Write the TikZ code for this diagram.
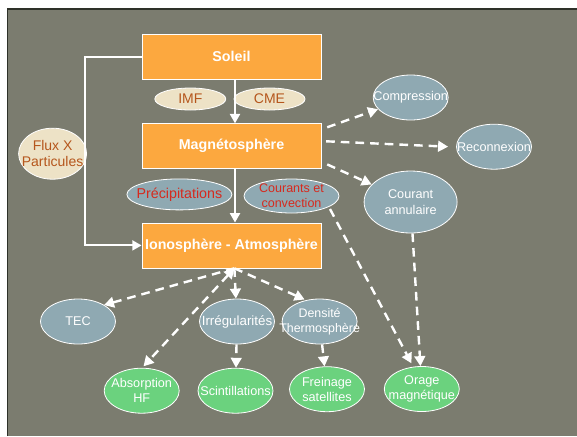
\documentclass[tikz,border=0pt]{standalone}
\usepackage{fontspec}
\setmainfont{Liberation Sans}
\usetikzlibrary{shapes.geometric,arrows.meta}
\definecolor{bggray}{HTML}{7B7C6F}
\definecolor{boxor}{HTML}{FCA83F}
\definecolor{beige}{HTML}{EDE2C6}
\definecolor{brn}{HTML}{B5561C}
\definecolor{bgray}{HTML}{8FA9B2}
\definecolor{rtxt}{HTML}{D62A1E}
\definecolor{grn}{HTML}{6BD27E}
\definecolor{darkedge}{HTML}{2E3129}
\begin{document}
\begin{tikzpicture}[x=0.75pt,y=-0.75pt,
  mainbox/.style={draw=white, line width=0.6pt, fill=boxor, minimum width=134.25pt,
    minimum height=33.75pt, inner sep=0pt, text=white, font=\fontsize{10.7}{13}\selectfont\bfseries},
  ell/.style={ellipse, draw=white, line width=0.6pt, inner sep=0pt},
  smallell/.style={ell, minimum width=56.25pt, minimum height=33.75pt},
  btext/.style={text=brn, font=\fontsize{10.5}{12.3}\selectfont, align=center, inner sep=0pt},
  rtext/.style={text=rtxt, font=\fontsize{10.7}{12.5}\selectfont, align=center, inner sep=0pt},
  rtexts/.style={text=rtxt, font=\fontsize{9.4}{11.3}\selectfont, align=center, inner sep=0pt},
  wtext/.style={text=white, font=\fontsize{9.5}{11.5}\selectfont, align=center, inner sep=0pt},
  sarrow/.style={draw=white, line width=1.5pt, -{Triangle[length=7pt,width=7.5pt]}},
  darrow/.style={draw=white, line width=1.8pt, dash pattern=on 6.5pt off 4.5pt,
    -{Triangle[length=7.5pt,width=8pt]}},
  ]
\useasboundingbox (0,0) rectangle (577,436);
\fill[white] (0,0) rectangle (577,436);
\fill[bggray] (7.4,9) rectangle (577,436);
\draw[darkedge, line width=1.2pt] (7.4,436) -- (7.4,9) -- (577,9);

% main boxes
\node[mainbox] (sol) at (231.5,56.8) {Soleil};
\node[mainbox] (mag) at (231.5,146.2) {Magnétosphère};
\node[mainbox] (ion) at (231.5,245.4) {Ionosphère - Atmosphère};

% beige ellipses
\node[ell, fill=beige, minimum width=53.25pt, minimum height=16.5pt, label={[btext]center:IMF}] (imf) at (190.3,99) {};
\node[ell, fill=beige, minimum width=53.25pt, minimum height=16.5pt, label={[btext]center:CME}] (cme) at (269.5,99) {};
\node[ell, fill=beige, minimum width=51pt, minimum height=38.25pt, label={[btext]center:{Flux X\\Particules}}] (flux) at (52.6,153.7) {};

% red-text ellipses
\node[ell, fill=bgray, minimum width=78.75pt, minimum height=23.25pt, label={[rtext]center:Précipitations}] (prec) at (179.4,194.4) {};
\node[ell, fill=bgray, minimum width=71.25pt, minimum height=25.5pt, label={[rtexts]center:{Courants et\\convection}}] (cour) at (291.5,196) {};

% blue-gray ellipses
\node[smallell, fill=bgray, label={[wtext]center:Compression}] (comp) at (410.7,97.5) {};
\node[smallell, fill=bgray, label={[wtext]center:Reconnexion}] (recon) at (494,146.7) {};
\node[ell, fill=bgray, minimum width=69.75pt, minimum height=46.5pt, label={[wtext]center:{Courant\\annulaire}}] (cann) at (410.6,202) {};
\node[smallell, fill=bgray, label={[wtext]center:TEC}] (tec) at (78,321.5) {};
\node[smallell, fill=bgray, label={[wtext,font=\fontsize{10}{12}\selectfont]center:Irrégularités}] (irr) at (237,321.5) {};
\node[smallell, fill=bgray, label={[wtext,font=\fontsize{9.3}{11.3}\selectfont]center:{Densité\\Thermosphère}}] (dens) at (319.6,321.5) {};

% green ellipses
\node[smallell, fill=grn, label={[wtext]center:{Absorption\\HF}}] (abs) at (141.7,390.7) {};
\node[smallell, fill=grn, label={[wtext]center:Scintillations}] (scint) at (235.5,390.7) {};
\node[smallell, fill=grn, label={[wtext]center:{Freinage\\satellites}}] (frein) at (327,389.2) {};
\node[smallell, fill=grn, label={[wtext]center:{Orage\\magnétique}}] (orage) at (421.8,389) {};

% solid connectors
\draw[sarrow] ([shift={(3.5,0)}]sol.south) -- ([shift={(3.5,0)}]mag.north);
\draw[sarrow] ([shift={(3.5,0)}]mag.south) -- ([shift={(3.5,0)}]ion.north);
\coordinate (lx) at (84.6,150);
\draw[sarrow] (sol.west) -| (lx) |- (ion.west);

% dashed connectors
\coordinate (iob) at ([shift={(2.9,0)}]ion.south);
\draw[darrow] ([shift={(5.8,4)}]mag.north east) -- (comp);
\draw[darrow] ([shift={(4.7,18)}]mag.north east) -- ([shift={(-8,0)}]recon.west);
\draw[darrow] ([shift={(5.8,-4.7)}]mag.south east) -- (cann);
\draw[darrow] ([shift={(38.5,13)}]cour.center) -- ([shift={(-10.4,-25.7)}]orage.center);
\draw[darrow] (cann) -- (orage);
\draw[darrow] (iob) -- ([shift={(26,-16.5)}]tec.center);
\draw[darrow] (iob) -- (irr);
\draw[darrow] (iob) -- ([shift={(-15,-22)}]dens.center);
\draw[darrow, {Triangle[length=7.5pt,width=8pt]}-{Triangle[length=7.5pt,width=8pt]}] (iob) -- ([shift={(1.8,-1.5)}]abs.north);
\draw[darrow] (irr) -- (scint);
\draw[darrow] (dens) -- (frein);
\end{tikzpicture}
\end{document}
